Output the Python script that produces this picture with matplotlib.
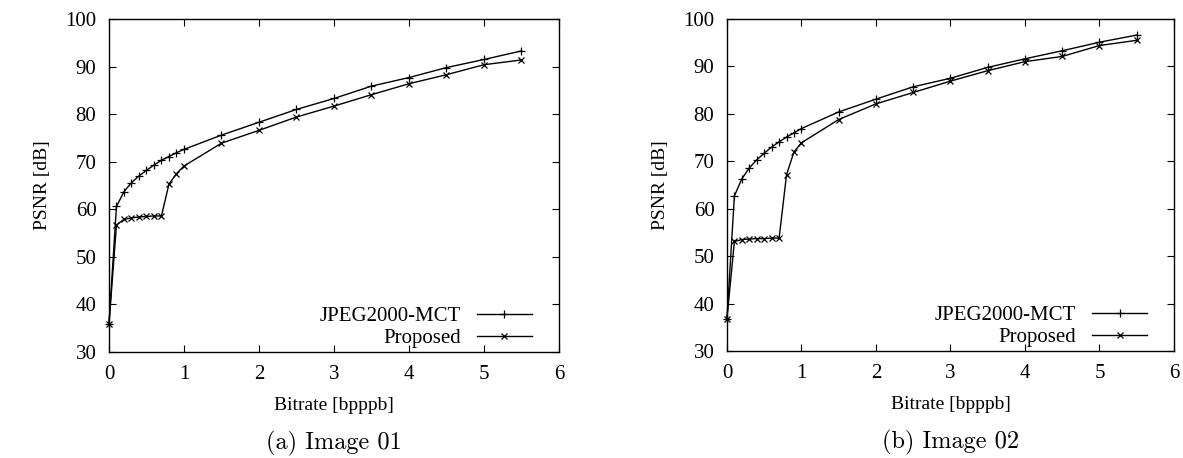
import matplotlib
matplotlib.use("Agg")
import matplotlib.pyplot as plt

bitrate = [0, 0.1, 0.2, 0.3, 0.4, 0.5, 0.6, 0.7, 0.8, 0.9, 1.0,
           1.5, 2.0, 2.5, 3.0, 3.5, 4.0, 4.5, 5.0, 5.5]

# Image 01
jpeg_01 = [35.8, 60.6, 63.7, 65.6, 67.0, 68.2, 69.3, 70.3, 71.1, 71.9, 72.6,
           75.6, 78.3, 81.0, 83.3, 85.9, 87.7, 89.8, 91.5, 93.3]
prop_01 = [35.8, 56.7, 57.9, 58.2, 58.4, 58.5, 58.6, 58.6, 65.3, 67.5, 69.1,
           73.9, 76.6, 79.4, 81.7, 84.1, 86.4, 88.3, 90.4, 91.4]

# Image 02
jpeg_02 = [36.8, 62.7, 66.3, 68.6, 70.3, 71.7, 73.0, 74.1, 75.1, 76.0, 76.9,
           80.4, 83.1, 85.7, 87.5, 89.8, 91.6, 93.3, 95.1, 96.6]
prop_02 = [36.8, 53.1, 53.5, 53.6, 53.7, 53.7, 53.8, 53.8, 67.2, 72.0, 73.9,
           78.8, 82.1, 84.5, 86.9, 89.1, 91.0, 92.1, 94.4, 95.5]

series_labels = ["JPEG2000-MCT", "Proposed"]
captions = ["(a) Image 01", "(b) Image 02"]
x_ticks = [0, 1, 2, 3, 4, 5, 6]
y_ticks = [30, 40, 50, 60, 70, 80, 90, 100]

plt.rcParams['font.family'] = ["Liberation Serif", "DejaVu Serif"]

fig = plt.figure(figsize=(11.83, 4.58), dpi=100)
ax1 = fig.add_axes([0.0921, 0.2314, 0.3804, 0.727])
ax2 = fig.add_axes([0.6145, 0.2336, 0.3779, 0.725])

panels = [(ax1, jpeg_01, prop_01), (ax2, jpeg_02, prop_02)]

for i, (ax, jp, pr) in enumerate(panels):
    ax.plot(bitrate, jp, color="black", lw=1.0, marker="+", ms=6, mew=0.9,
            label=series_labels[0], clip_on=False)
    ax.plot(bitrate, pr, color="black", lw=1.0, marker="x", ms=5, mew=0.9,
            label=series_labels[1], clip_on=False)
    ax.set_xlim(0, 6)
    ax.set_ylim(30, 100)
    ax.set_xticks(x_ticks)
    ax.set_yticks(y_ticks)
    ax.tick_params(direction="in", top=True, right=True, length=5, width=0.8,
                   labelsize=15, pad=9)
    for sp in ax.spines.values():
        sp.set_linewidth(1.0)
    ax.set_xlabel("Bitrate [bpppb]", fontsize=14, labelpad=10)
    ax.set_ylabel("PSNR [dB]", fontsize=14, labelpad=10)
    ax.legend(loc="lower right", bbox_to_anchor=(0.94, 0.012), frameon=False,
              markerfirst=False, fontsize=15, handlelength=2.65,
              borderaxespad=0, borderpad=0, labelspacing=0.1,
              handletextpad=0.77)
    ax.text(0.5, -0.276, captions[i], transform=ax.transAxes, ha="center",
            va="center", fontsize=17.5, family=["cmr10", "DejaVu Serif"])

fig.savefig("out.png", dpi=100)
